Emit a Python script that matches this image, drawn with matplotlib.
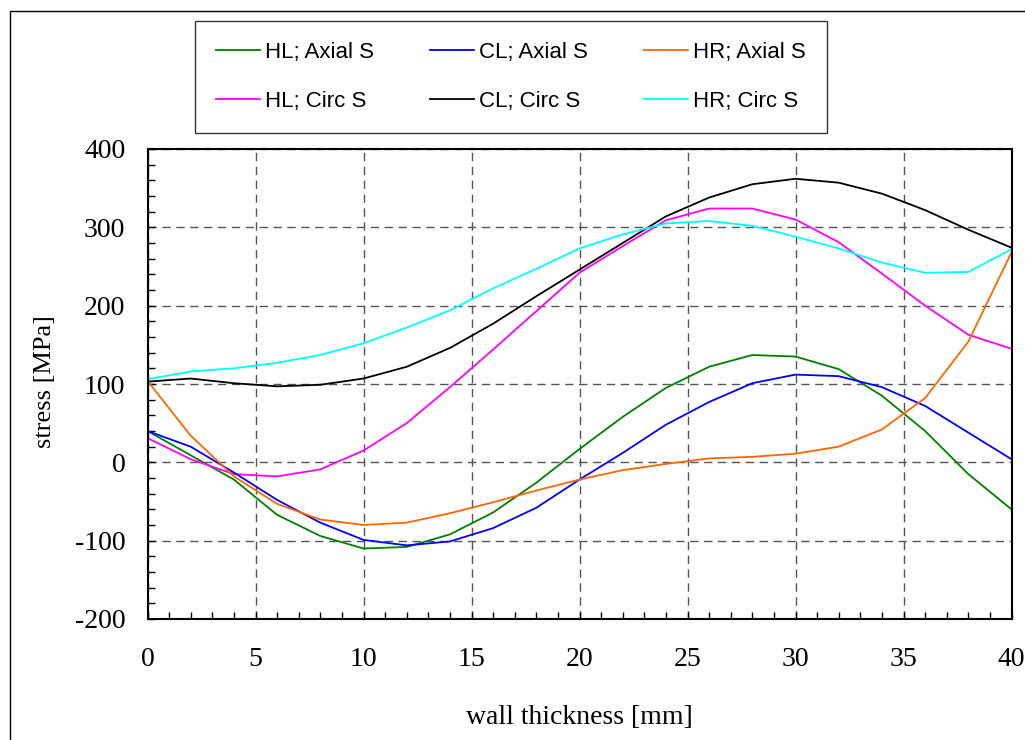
import matplotlib
matplotlib.use("Agg")
import matplotlib.pyplot as plt
from matplotlib.patches import Rectangle
from matplotlib.ticker import MultipleLocator

plt.rcParams["axes.unicode_minus"] = False

# wall thickness positions [mm]
thickness = [0, 2, 4, 6, 8, 10, 12, 14, 16, 18, 20, 22, 24, 26, 28, 30, 32, 34, 36, 38, 40]

# stress values [MPa]
hl_axial = [40, 9, -22, -67, -94, -110, -108, -92, -64, -26, 17, 58, 95, 122, 137, 135, 119, 85, 40, -15, -60]
cl_axial = [40, 20, -13, -48, -77, -99, -106, -101, -84, -58, -22, 12, 48, 77, 101, 112, 110, 96, 72, 38, 4]
hr_axial = [104, 34, -18, -53, -73, -80, -77, -65, -51, -36, -22, -10, -2, 5, 7, 11, 20, 42, 82, 154, 268]
hl_circ = [31, 4, -15, -18, -9, 15, 50, 96, 144, 193, 242, 276, 309, 324, 324, 310, 281, 241, 200, 163, 145]
cl_circ = [103, 107, 101, 97, 99, 107, 122, 146, 177, 212, 246, 280, 314, 338, 355, 362, 357, 343, 322, 297, 274]
hr_circ = [106, 116, 120, 127, 137, 152, 172, 194, 222, 247, 273, 291, 305, 308, 302, 288, 273, 255, 242, 243, 272]

# legend fills column by column, so this order gives Axial on row 1, Circ on row 2
series = [
    ("HL; Axial S", hl_axial, "#008000"),
    ("HL; Circ S", hl_circ, "#FF00FF"),
    ("CL; Axial S", cl_axial, "#0000FF"),
    ("CL; Circ S", cl_circ, "#000000"),
    ("HR; Axial S", hr_axial, "#FF6600"),
    ("HR; Circ S", hr_circ, "#00FFFF"),
]

W, H = 1025, 740
fig = plt.figure(figsize=(W / 100, H / 100), dpi=100)
ax = fig.add_axes([147.5 / W, 1 - 619 / H, (1011.5 - 147.5) / W, (619 - 149) / H])

# outer chart frame
fig.patches.append(Rectangle((10 / W, -0.05), 1.2, 1 - 10.5 / H + 0.05,
                             transform=fig.transFigure, fill=False,
                             edgecolor="black", linewidth=1.0))

handles = []
for label, vals, col in series:
    ln, = ax.plot(thickness, vals, color=col, linewidth=1.3, label=label)
    handles.append(ln)

ax.set_xlim(0, 40)
ax.set_ylim(-200, 400)
ax.xaxis.set_major_locator(MultipleLocator(5))
ax.xaxis.set_minor_locator(MultipleLocator(1))
ax.yaxis.set_major_locator(MultipleLocator(100))
ax.yaxis.set_minor_locator(MultipleLocator(20))

serif = ["Liberation Serif", "DejaVu Serif"]
ax.tick_params(axis="both", which="both", direction="in", length=5, width=1, color="black")
ax.tick_params(axis="x", which="major", pad=20)
ax.tick_params(axis="y", which="major", pad=16)
for t in ax.get_xticklabels() + ax.get_yticklabels():
    t.set_family(serif)
    t.set_fontsize(20)

ax.grid(True, which="major", linestyle=(0, (6, 4)), color="#555555", linewidth=1.0)
for s in ax.spines.values():
    s.set_linewidth(1.5)
    s.set_color("black")

fig.text((147.5 + 1011.5) / 2 / W, 1 - 724 / H, "wall thickness [mm]", family=serif,
         fontsize=20, ha="center", va="baseline")
fig.text(45 / W, 1 - 382 / H, "stress [MPa]", family=serif, fontsize=19,
         ha="center", va="center", rotation=90)

leg = fig.legend(handles=handles, ncol=3, loc="upper left",
                 bbox_to_anchor=(195 / W, 1 - 21 / H),
                 prop={"family": ["Liberation Sans", "DejaVu Sans"], "size": 16},
                 frameon=True, fancybox=False, edgecolor="black",
                 handlelength=2.0, handletextpad=0.22, columnspacing=2.5,
                 labelspacing=1.25, borderpad=0.94, borderaxespad=0)
leg.get_frame().set_linewidth(1.0)

fig.savefig("out.png", dpi=100)
